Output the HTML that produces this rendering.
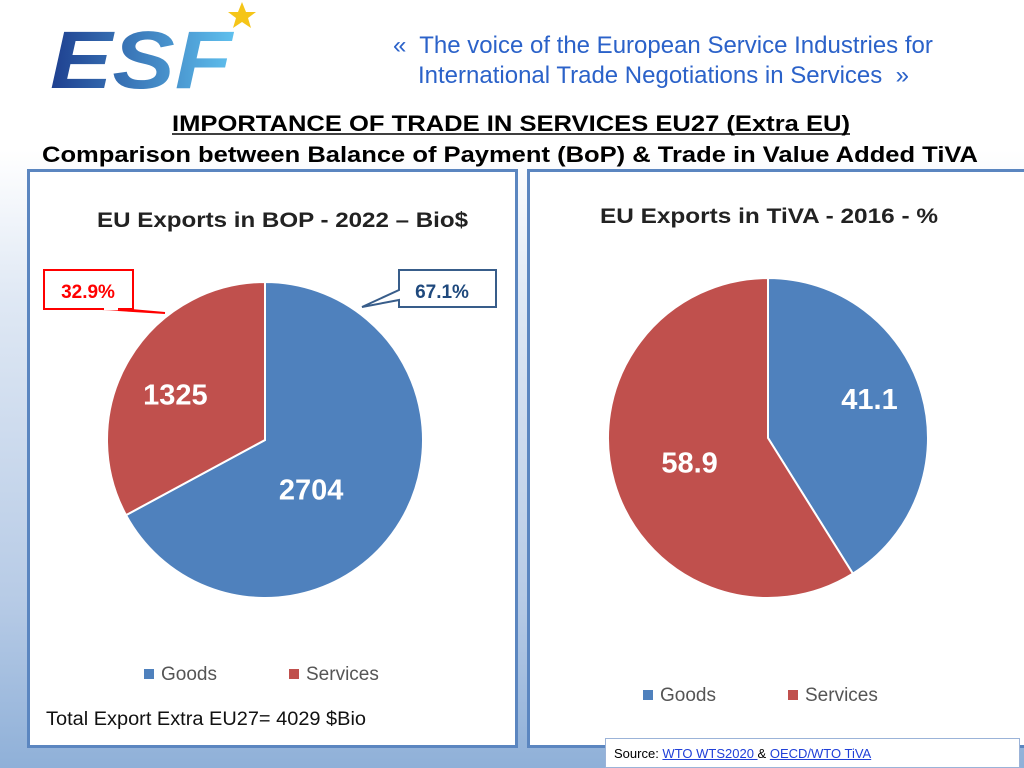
<!DOCTYPE html>
<html><head><meta charset="utf-8"><style>
body{margin:0;width:1024px;height:768px;overflow:hidden;font-family:"Liberation Sans",sans-serif;background:linear-gradient(180deg,#fff 0,#fff 150px,#dfe8f4 300px,#b7cbe6 600px,#8fb0d8 768px);position:relative}
.ab{position:absolute}
.panel{position:absolute;background:#fff;border:3px solid #5b86c0;box-sizing:border-box}
</style></head><body>
<svg class="ab" style="left:40px;top:0" width="230" height="95" viewBox="0 0 230 95">
<defs><linearGradient id="lg" x1="0" x2="1"><stop offset="0" stop-color="#1e3f8f"/><stop offset="1" stop-color="#5fc0ee"/></linearGradient></defs>
<text x="10" y="88" font-family="Liberation Sans" font-weight="bold" font-style="italic" font-size="82" fill="url(#lg)" textLength="182" lengthAdjust="spacingAndGlyphs">ESF</text>
<polygon points="202,2 206,12 216,12 208,18 211,28 202,22 193,28 196,18 188,12 198,12" fill="#f5c518"/>
</svg>
<div class="ab" style="left:393px;top:31px;color:#2b62c9;font-size:24px;line-height:30px;white-space:nowrap">«&nbsp; The voice of the European Service Industries for<br><span style="padding-left:25px">International Trade Negotiations in Services&nbsp; »</span></div>
<svg class="ab" style="left:0;top:100px" width="1024" height="70">
<text x="172" y="31" font-size="22" font-weight="bold" font-family="Liberation Sans" textLength="678" lengthAdjust="spacingAndGlyphs">IMPORTANCE OF TRADE IN SERVICES EU27 (Extra EU)</text>
<line x1="172" y1="34" x2="850" y2="34" stroke="#000" stroke-width="1.5"/>
<text x="42" y="62" font-size="22" font-weight="bold" font-family="Liberation Sans" textLength="936" lengthAdjust="spacingAndGlyphs">Comparison between Balance of Payment (BoP) &amp; Trade in Value Added TiVA</text>
</svg>

<div class="panel" style="left:27px;top:169px;width:491px;height:579px"></div>
<div class="panel" style="left:527px;top:169px;width:500px;height:579px"></div>

<svg class="ab" id="chart" style="left:0;top:0" width="1024" height="768"></svg>

<div class="ab" style="left:605px;top:738px;width:415px;height:30px;background:#fff;border:1px solid #9bb3d8;box-sizing:border-box;font-size:13px;padding:7px 0 0 8px">Source: <a style="color:#1f3fd8;text-decoration:underline">WTO WTS2020 </a>&amp; <a style="color:#1f3fd8;text-decoration:underline">OECD/WTO TiVA</a></div>

<script>
const bopCategories=["Goods","Services"];
const bopValues=[2704,1325];
const bopPct=["67.1%","32.9%"];
const tivaCategories=["Goods","Services"];
const tivaValues=[41.1,58.9];
const colors=["#4f81bd","#c0504d"];
const NS="http://www.w3.org/2000/svg";
const svg=document.getElementById('chart');
function mk(t,a,p){const e=document.createElementNS(NS,t);for(const k in a)e.setAttribute(k,a[k]);(p||svg).appendChild(e);return e;}
function pie(cx,cy,r,vals,cats,name,labelPos,dy){
  const tot=vals.reduce((a,b)=>a+b,0);let a0=0;
  vals.forEach((v,i)=>{
    const a1=a0+v/tot*2*Math.PI;
    const x0=cx+r*Math.sin(a0),y0=cy-r*Math.cos(a0),x1=cx+r*Math.sin(a1),y1=cy-r*Math.cos(a1);
    const p=mk('path',{d:`M${cx},${cy}L${x0},${y0}A${r},${r} 0 ${a1-a0>Math.PI?1:0} 1 ${x1},${y1}Z`,fill:colors[i],stroke:'#fff','stroke-width':2});
    
    
    const am=(a0+a1)/2, lr=r*labelPos[i];
    const t=mk('text',{x:cx+lr*Math.sin(am),y:cy-lr*Math.cos(am)+dy[i],'text-anchor':'middle','font-size':29,'font-weight':'bold',fill:'#fff','font-family':'Liberation Sans'});
    t.textContent=vals[i];
    
    
    a0=a1;
  });
}
pie(265,440,158,bopValues,bopCategories,'bop',[0.34,0.66],[32,18]);
pie(768,438,160,tivaValues,tivaCategories,'tiva',[0.66,0.51],[0,12]);
function txt(x,y,s,size,fill,name,bold,anchor,len){const a={x,y,'font-size':size,fill,'font-family':'Liberation Sans','font-weight':bold?'bold':'normal','text-anchor':anchor||'start'};if(len){a.textLength=len;a.lengthAdjust='spacingAndGlyphs';}const t=mk('text',a);t.textContent=s;return t;}
txt(97,227,"EU Exports in BOP - 2022 – Bio$",21,'#222','bop-title',true,'start',371);
txt(600,223,"EU Exports in TiVA - 2016 - %",21,'#222','tiva-title',true,'start',338);
txt(46,725,"Total Export Extra EU27= 4029 $Bio",19,'#111','total-note',false,'start',320);
// callouts
let c=mk('rect',{x:44,y:270,width:89,height:39,fill:'#fff',stroke:'#ff0000','stroke-width':2});

c=mk('path',{d:'M102,309L165,313L120,309',fill:'#fff',stroke:'#ff0000','stroke-width':2});

mk('line',{x1:104,y1:309,x2:118,y2:309,stroke:'#fff','stroke-width':2.5});
txt(88,298,bopPct[1],19,'#ff0000','services-pct',true,'middle');
c=mk('path',{d:'M399,270H496V307H399V300L362,307L399,290Z',fill:'#fff',stroke:'#385d8a','stroke-width':2});

txt(442,298,bopPct[0],19,'#1f497d','goods-pct',true,'middle');
// legends
function legend(x,y,name){
  [["Goods",0],["Services",145]].forEach(([s,dx],i)=>{
    const r=mk('rect',{x:x+dx,y:y-11,width:10,height:10,fill:colors[i]});
    
    txt(x+dx+17,y,s,19,'#555',name+'-legend-'+s.toLowerCase(),false);
  });
}
legend(144,680,'bop');
legend(643,701,'tiva');
</script>
</body></html>
